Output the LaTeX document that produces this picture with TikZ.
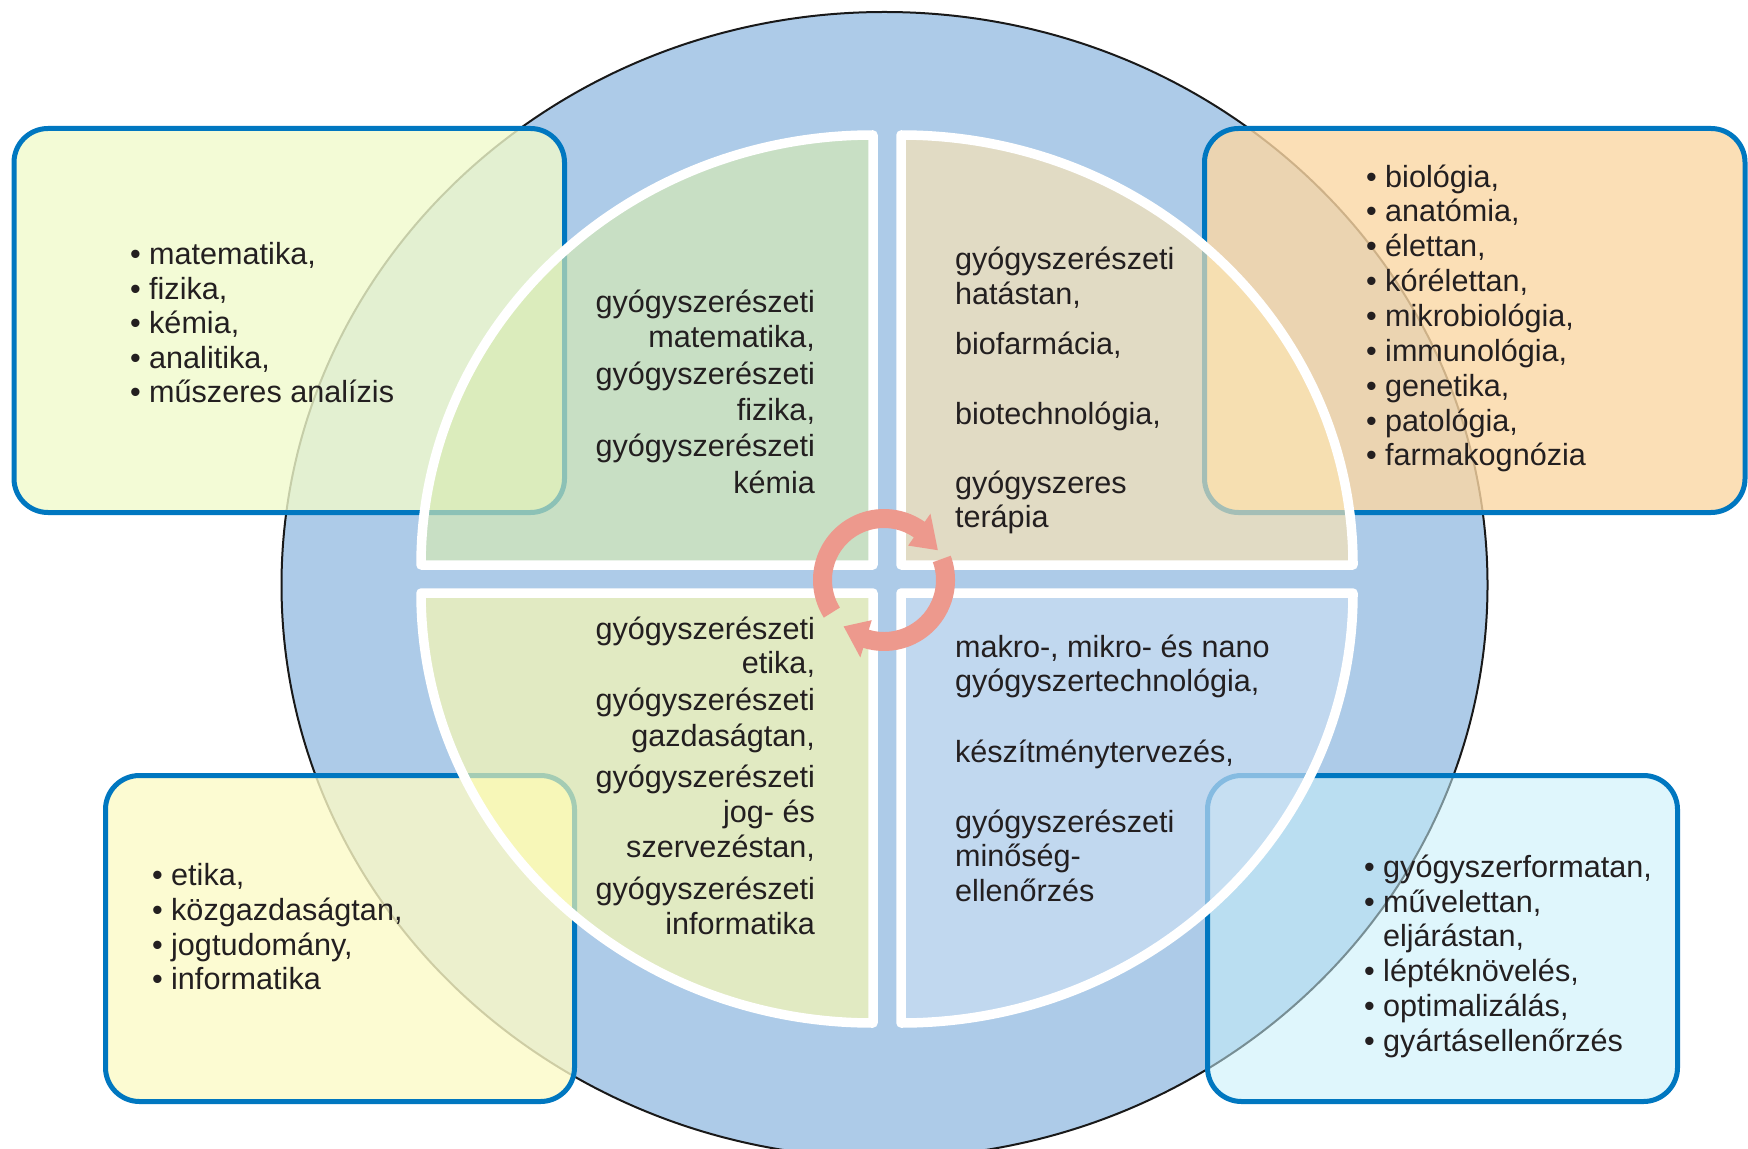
\documentclass[tikz,border=0pt]{standalone}
\usepackage{fontspec}
\setmainfont{Liberation Sans}
\definecolor{circblue}{RGB}{173,203,232}
\definecolor{boxblue}{RGB}{0,119,192}
\definecolor{tlfill}{RGB}{241,250,204}
\definecolor{trfill}{RGB}{251,215,164}
\definecolor{blfill}{RGB}{252,250,199}
\definecolor{brfill}{RGB}{197,239,250}
\definecolor{qtl}{RGB}{216,234,177}
\definecolor{qtr}{RGB}{253,229,177}
\definecolor{qbl}{RGB}{253,251,174}
\definecolor{qbr}{RGB}{205,224,244}
\definecolor{arrowc}{RGB}{237,153,141}
\definecolor{txt}{RGB}{35,31,32}
\begin{document}
\begin{tikzpicture}[x=0.5pt,y=-0.5pt,
  box/.style={rounded corners=17pt, line width=2.5pt, draw=boxblue, inner sep=0pt, outer sep=0pt},
  quad/.style={draw=white, line width=4.75pt, line join=round, fill opacity=0.65},
  lbl/.style={inner sep=0pt, outer sep=0pt, font=\fontsize{15.3pt}{18pt}\selectfont, text=txt},
  le/.style={lbl, anchor=base east},
  lw/.style={lbl, anchor=base west}]
\useasboundingbox (0,0) rectangle (1748,1149);
\fill[white] (0,0) rectangle (1748,1149);
% big disc
\draw[fill=circblue, line width=1pt, draw=black!90] (884.5,585) ellipse [x radius=603, y radius=573];
% side boxes
\node[box, fill=tlfill, fill opacity=0.8, minimum width=275.25pt, minimum height=192pt] (tlbox) at (289.25,320.5) {};
\node[box, fill=trfill, fill opacity=0.8, minimum width=270.25pt, minimum height=192pt] (trbox) at (1474.75,320.5) {};
\node[box, fill=blfill, fill opacity=0.8, minimum width=234.5pt, minimum height=163pt] (blbox) at (340,938.5) {};
\node[box, fill=brfill, fill opacity=0.55, minimum width=235pt, minimum height=163pt] (brbox) at (1442.5,938.5) {};
% quadrants
\path[quad, fill=qtl] (873,565) -- ++(-452,0) arc[start angle=180, end angle=270, x radius=452, y radius=430] -- cycle;
\path[quad, fill=qtr] (901,565) -- ++(0,-430) arc[start angle=270, end angle=360, x radius=452, y radius=430] -- cycle;
\path[quad, fill=qbl] (873,593) -- ++(0,430) arc[start angle=90, end angle=180, x radius=452, y radius=430] -- cycle;
\path[quad, fill=qbr] (901,593) -- ++(452,0) arc[start angle=0, end angle=90, x radius=452, y radius=430] -- cycle;
% circular arrows
\begin{scope}[shift={(884,580)}]
\fill[arrowc] (-212:71) arc[start angle=-212, end angle=-55, radius=71] -- (-55:81) -- (-29:61.5) -- (-55:42) -- (-55:52) arc[start angle=-55, end angle=-212, radius=52] -- cycle;
\fill[arrowc] (-20:71) arc[start angle=-20, end angle=107, radius=71] -- (107:81) -- (131:61.5) -- (107:42) -- (107:52) arc[start angle=107, end angle=-20, radius=52] -- cycle;
\end{scope}
% top-left quadrant text
\node[le] (q1a) at (815,313) {gyógyszerészeti};
\node[le] (q1b) at (815,348) {matematika,};
\node[le] (q1c) at (815,385) {gyógyszerészeti};
\node[le] (q1d) at (815,421) {fizika,};
\node[le] (q1e) at (815,457) {gyógyszerészeti};
\node[le] (q1f) at (815,493) {kémia};
% top-right quadrant text
\node[lw] (q2a) at (955,270) {gyógyszerészeti};
\node[lw] (q2b) at (955,305) {hatástan,};
\node[lw] (q2c) at (955,355) {biofarmácia,};
\node[lw] (q2d) at (955,424) {biotechnológia,};
\node[lw] (q2e) at (955,493) {gyógyszeres};
\node[lw] (q2f) at (955,527) {terápia};
% bottom-left quadrant text
\node[le] (q3a) at (815,639) {gyógyszerészeti};
\node[le] (q3b) at (815,673) {etika,};
\node[le] (q3c) at (815,710) {gyógyszerészeti};
\node[le] (q3d) at (815,746) {gazdaságtan,};
\node[le] (q3e) at (815,787) {gyógyszerészeti};
\node[le] (q3f) at (815,822) {jog- és};
\node[le] (q3g) at (815,857) {szervezéstan,};
\node[le] (q3h) at (815,899) {gyógyszerészeti};
\node[le] (q3i) at (815,934) {informatika};
% bottom-right quadrant text
\node[lw] (q4a) at (955,657) {makro-, mikro- és nano};
\node[lw] (q4b) at (955,691) {gyógyszertechnológia,};
\node[lw] (q4c) at (955,762) {készítménytervezés,};
\node[lw] (q4d) at (955,832) {gyógyszerészeti};
\node[lw] (q4e) at (955,866) {minőség-};
\node[lw] (q4f) at (955,901) {ellenőrzés};
% top-left box list
\node[lw] (b1a) at (130,265) {• matematika,};
\node[lw] (b1b) at (130,300) {• fizika,};
\node[lw] (b1c) at (130,334) {• kémia,};
\node[lw] (b1d) at (130,369) {• analitika,};
\node[lw] (b1e) at (130,403) {• műszeres analízis};
% top-right box list
\node[lw] (b2a) at (1366,188) {• biológia,};
\node[lw] (b2b) at (1366,222) {• anatómia,};
\node[lw] (b2c) at (1366,257) {• élettan,};
\node[lw] (b2d) at (1366,292) {• kórélettan,};
\node[lw] (b2e) at (1366,327) {• mikrobiológia,};
\node[lw] (b2f) at (1366,362) {• immunológia,};
\node[lw] (b2g) at (1366,397) {• genetika,};
\node[lw] (b2h) at (1366,431) {• patológia,};
\node[lw] (b2i) at (1366,466) {• farmakognózia};
% bottom-left box list
\node[lw] (b3a) at (152,885) {• etika,};
\node[lw] (b3b) at (152,920) {• közgazdaságtan,};
\node[lw] (b3c) at (152,955) {• jogtudomány,};
\node[lw] (b3d) at (152,989) {• informatika};
% bottom-right box list
\node[lw] (b4a) at (1364,877) {• gyógyszerformatan,};
\node[lw] (b4b) at (1364,912) {• művelettan,};
\node[lw] (b4c) at (1383,946) {eljárástan,};
\node[lw] (b4d) at (1364,981) {• léptéknövelés,};
\node[lw] (b4e) at (1364,1016) {• optimalizálás,};
\node[lw] (b4f) at (1364,1051) {• gyártásellenőrzés};
\end{tikzpicture}
\end{document}
